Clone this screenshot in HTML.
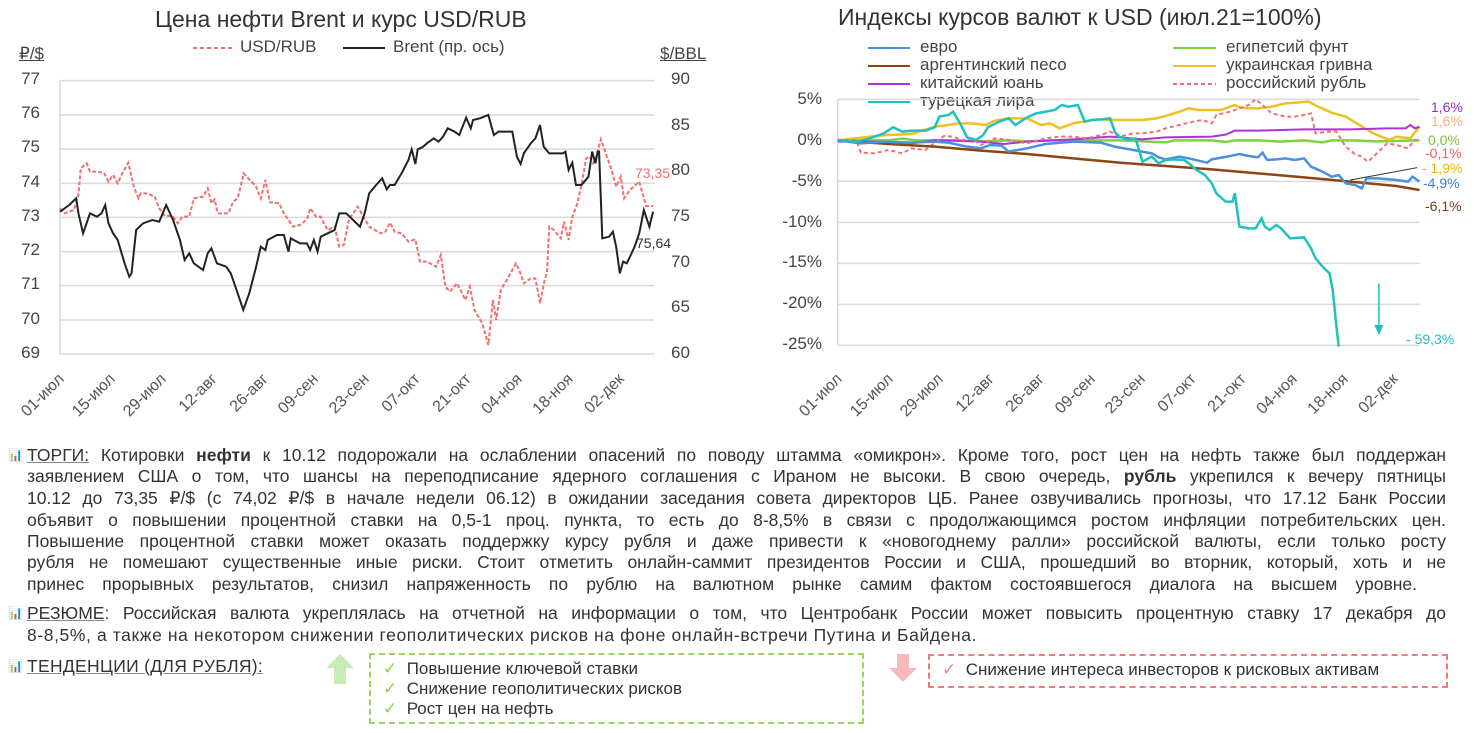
<!DOCTYPE html>
<html><head><meta charset="utf-8"><style>
body{margin:0;width:1474px;height:733px;background:#fff;position:relative;overflow:hidden;font-family:"Liberation Sans",sans-serif;color:#333}
.a{position:absolute;white-space:nowrap}
.yl{position:absolute;font-size:17px;color:#444;text-align:right;width:30px}
.yr{position:absolute;font-size:17px;color:#444}
.xl{position:absolute;font-size:16px;color:#555;transform-origin:right center;transform:rotate(-45deg);text-align:right;width:70px}
.ln{position:absolute;left:27px;width:1419px;font-size:17.5px;letter-spacing:0px;text-align:justify;text-align-last:justify;white-space:nowrap;line-height:20px}
.ic{position:absolute;left:8px;width:12px;height:12px;font-size:12px}
u{text-decoration-color:#888}
</style></head><body>
<!-- LEFT CHART -->
<div class="a" style="left:155px;top:6px;font-size:23px;color:#333">Цена нефти Brent и курс USD/RUB</div>
<svg class="a" style="left:193px;top:46px" width="42" height="4"><line x1="0" y1="2" x2="42" y2="2" stroke="#f07070" stroke-width="2" stroke-dasharray="4,3"/></svg>
<div class="a" style="left:240px;top:37px;font-size:17px;color:#444">USD/RUB</div>
<svg class="a" style="left:343px;top:46px" width="42" height="4"><line x1="0" y1="2" x2="42" y2="2" stroke="#222" stroke-width="2"/></svg>
<div class="a" style="left:393px;top:37px;font-size:17px;color:#444">Brent (пр. ось)</div>
<div class="a" style="left:19px;top:44px;font-size:17px;color:#444;text-decoration:underline">₽/$</div>
<div class="a" style="left:660px;top:44px;font-size:17px;color:#444;text-decoration:underline">$/BBL</div>
<div class="yl" style="left:10px;top:69px">77</div><div class="yl" style="left:10px;top:103px">76</div><div class="yl" style="left:10px;top:137px">75</div><div class="yl" style="left:10px;top:172px">74</div><div class="yl" style="left:10px;top:206px">73</div><div class="yl" style="left:10px;top:240px">72</div><div class="yl" style="left:10px;top:274px">71</div><div class="yl" style="left:10px;top:309px">70</div><div class="yl" style="left:10px;top:343px">69</div>
<div class="yr" style="left:671px;top:69px">90</div><div class="yr" style="left:671px;top:115px">85</div><div class="yr" style="left:671px;top:160px">80</div><div class="yr" style="left:671px;top:206px">75</div><div class="yr" style="left:671px;top:252px">70</div><div class="yr" style="left:671px;top:297px">65</div><div class="yr" style="left:671px;top:343px">60</div>
<svg class="a" style="left:0;top:0" width="720" height="420" viewBox="0 0 1560 1260" preserveAspectRatio="none">
<g stroke="#d9d9d9" stroke-width="1.5">
<line x1="130" y1="242" x2="1418" y2="242" vector-effect="non-scaling-stroke"/><line x1="130" y1="345" x2="1418" y2="345" vector-effect="non-scaling-stroke"/><line x1="130" y1="447" x2="1418" y2="447" vector-effect="non-scaling-stroke"/><line x1="130" y1="550" x2="1418" y2="550" vector-effect="non-scaling-stroke"/><line x1="130" y1="652" x2="1418" y2="652" vector-effect="non-scaling-stroke"/><line x1="130" y1="755" x2="1418" y2="755" vector-effect="non-scaling-stroke"/><line x1="130" y1="857" x2="1418" y2="857" vector-effect="non-scaling-stroke"/><line x1="130" y1="960" x2="1418" y2="960" vector-effect="non-scaling-stroke"/>
<line x1="130" y1="242" x2="130" y2="1062" vector-effect="non-scaling-stroke"/><line x1="130" y1="1062" x2="1418" y2="1062" vector-effect="non-scaling-stroke"/>
</g>
<polyline fill="none" stroke="#f07070" stroke-width="2" stroke-dasharray="4,2" vector-effect="non-scaling-stroke" points="130,625 140,640 160,630 170,585 175,505 188,490 195,515 205,515 225,518 235,545 245,525 255,550 265,520 278,488 290,560 300,595 305,580 320,580 335,590 345,625 355,645 375,650 385,670 395,650 410,650 420,595 440,590 450,565 458,610 465,598 472,640 495,640 505,605 515,595 528,520 540,538 555,560 565,595 575,540 585,607 605,610 615,640 635,680 650,675 665,658 672,625 685,650 695,650 700,665 710,690 725,680 735,740 745,735 755,665 760,650 775,620 785,645 800,680 825,700 835,695 845,668 855,695 870,700 885,725 900,718 910,785 925,785 945,800 955,765 965,860 975,875 990,850 998,870 1008,900 1018,860 1028,930 1045,970 1052,1005 1058,1035 1068,900 1075,960 1085,870 1100,835 1110,810 1118,790 1125,810 1135,850 1150,835 1160,835 1170,910 1180,840 1185,820 1190,680 1200,690 1215,715 1222,665 1232,720 1240,650 1250,615 1260,555 1270,475 1278,470 1285,490 1292,470 1302,418 1315,470 1325,510 1335,560 1345,530 1352,595 1365,570 1385,545 1400,618 1415,618"/>
<polyline fill="none" stroke="#222" stroke-width="2" vector-effect="non-scaling-stroke" points="130,635 150,615 165,595 170,640 180,700 195,640 210,650 220,640 228,615 235,670 245,700 255,720 270,790 280,830 285,820 295,690 310,670 330,660 345,665 360,615 375,660 390,720 400,780 410,760 420,790 440,810 450,760 458,745 470,790 490,800 500,820 515,880 527,930 540,880 555,800 565,740 575,750 580,720 600,705 615,705 625,755 630,715 650,730 665,730 672,750 680,720 688,755 695,710 710,700 725,690 735,640 750,640 765,660 780,680 790,640 800,580 815,555 828,535 838,568 845,555 855,555 870,520 885,480 892,448 900,492 905,448 915,442 925,430 940,415 950,425 960,410 970,385 985,395 995,405 1010,353 1020,385 1025,360 1040,355 1058,345 1070,405 1080,395 1110,395 1120,470 1128,492 1135,460 1150,430 1160,415 1170,375 1178,440 1190,460 1220,460 1225,455 1232,510 1240,488 1248,555 1260,555 1275,530 1283,455 1290,490 1295,455 1298,455 1305,715 1320,710 1328,695 1335,740 1343,820 1350,785 1358,790 1365,770 1375,740 1385,700 1395,630 1407,680 1415,635"/>
</svg>
<div class="a" style="left:635px;top:165px;font-size:14px;color:#f07070">73,35</div>
<div class="a" style="left:636px;top:235px;font-size:14px;color:#333">75,64</div>
<div class="xl" style="left:-8px;top:368px">01-июл</div><div class="xl" style="left:43px;top:368px">15-июл</div><div class="xl" style="left:94px;top:368px">29-июл</div><div class="xl" style="left:145px;top:368px">12-авг</div><div class="xl" style="left:196px;top:368px">26-авг</div><div class="xl" style="left:246px;top:368px">09-сен</div><div class="xl" style="left:297px;top:368px">23-сен</div><div class="xl" style="left:348px;top:368px">07-окт</div><div class="xl" style="left:399px;top:368px">21-окт</div><div class="xl" style="left:450px;top:368px">04-ноя</div><div class="xl" style="left:501px;top:368px">18-ноя</div><div class="xl" style="left:552px;top:368px">02-дек</div>

<!-- RIGHT CHART -->
<div class="a" style="left:838px;top:4px;font-size:23px;color:#333">Индексы курсов валют к USD (июл.21=100%)</div>
<svg class="a" style="left:868px;top:40px" width="350" height="70">
<line x1="0" y1="8" x2="42" y2="8" stroke="#4a8fe0" stroke-width="2"/>
<line x1="0" y1="26" x2="42" y2="26" stroke="#8b4513" stroke-width="2"/>
<line x1="0" y1="44" x2="42" y2="44" stroke="#b030e0" stroke-width="2"/>
<line x1="0" y1="62" x2="42" y2="62" stroke="#20c0c0" stroke-width="2"/>
<line x1="305" y1="8" x2="348" y2="8" stroke="#80d040" stroke-width="2"/>
<line x1="305" y1="26" x2="348" y2="26" stroke="#f0c020" stroke-width="2"/>
<line x1="305" y1="44" x2="348" y2="44" stroke="#f07070" stroke-width="2" stroke-dasharray="4,3"/>
</svg>
<div class="a" style="left:920px;top:38px;font-size:17px;color:#444;line-height:18px">евро<br>аргентинский песо<br>китайский юань<br>турецкая лира</div>
<div class="a" style="left:1226px;top:38px;font-size:17px;color:#444;line-height:18px">египетсий фунт<br>украинская гривна<br>российский рубль</div>
<div class="yl" style="left:782px;top:89px;width:40px">5%</div><div class="yl" style="left:782px;top:130px;width:40px">0%</div><div class="yl" style="left:782px;top:171px;width:40px">-5%</div><div class="yl" style="left:782px;top:212px;width:40px">-10%</div><div class="yl" style="left:782px;top:252px;width:40px">-15%</div><div class="yl" style="left:782px;top:293px;width:40px">-20%</div><div class="yl" style="left:782px;top:334px;width:40px">-25%</div>
<svg class="a" style="left:750px;top:0" width="724" height="420" viewBox="0 0 1568 1260" preserveAspectRatio="none">
<g stroke="#d9d9d9">
<line x1="190" y1="298" x2="1450" y2="298" vector-effect="non-scaling-stroke" stroke-width="1.5"/><line x1="190" y1="544" x2="1450" y2="544" vector-effect="non-scaling-stroke" stroke-width="1.5"/><line x1="190" y1="667" x2="1450" y2="667" vector-effect="non-scaling-stroke" stroke-width="1.5"/><line x1="190" y1="790" x2="1450" y2="790" vector-effect="non-scaling-stroke" stroke-width="1.5"/><line x1="190" y1="913" x2="1450" y2="913" vector-effect="non-scaling-stroke" stroke-width="1.5"/><line x1="190" y1="1036" x2="1450" y2="1036" vector-effect="non-scaling-stroke" stroke-width="1.5"/><line x1="190" y1="298" x2="190" y2="1036" vector-effect="non-scaling-stroke" stroke-width="1.5"/>
</g>
<g fill="none" stroke-width="2">
<polyline vector-effect="non-scaling-stroke" stroke="#80d040" stroke-width="2.5" points="190,421 300,421 330,416 360,421 450,421 500,424 560,421 600,424 650,421 800,421 900,427 920,421 1000,421 1030,426 1050,421 1100,421 1150,425 1200,421 1240,427 1260,421 1300,421 1360,424 1450,421"/>
<polyline vector-effect="non-scaling-stroke" stroke="#f0c020" stroke-width="2.5" points="190,421 260,410 300,405 350,402 400,380 430,375 450,370 480,370 510,375 530,362 560,355 600,355 630,375 650,370 670,385 700,370 750,358 800,360 850,360 880,355 900,348 930,335 950,325 970,330 1000,330 1020,330 1050,315 1060,322 1080,325 1100,325 1130,320 1160,310 1210,305 1230,320 1260,338 1290,350 1320,375 1350,400 1370,412 1385,420 1400,410 1430,415 1450,380"/>
<polyline vector-effect="non-scaling-stroke" stroke="#b030e0" points="190,425 300,425 350,430 400,420 500,425 550,432 600,425 700,418 780,410 850,418 900,412 1000,410 1030,404 1050,392 1100,392 1150,390 1200,388 1300,388 1380,385 1420,385 1430,375 1440,385 1450,380"/>
<polyline vector-effect="non-scaling-stroke" stroke="#f07070" stroke-dasharray="4,3" points="190,421 230,420 240,458 270,460 300,450 330,460 350,445 380,450 400,428 420,408 440,410 460,420 480,415 500,435 530,415 560,420 600,430 640,415 670,410 700,410 730,415 760,405 780,395 800,410 830,400 850,400 880,395 900,385 930,375 960,365 980,360 1000,370 1010,345 1040,335 1060,325 1080,315 1095,298 1110,315 1130,340 1160,350 1180,350 1200,345 1215,340 1225,400 1250,395 1270,395 1290,440 1310,462 1325,470 1338,485 1350,470 1365,450 1380,430 1400,435 1425,445 1440,420 1450,421"/>
<polyline vector-effect="non-scaling-stroke" stroke="#8b4513" stroke-width="2.5" points="190,421 300,432 400,440 500,452 600,462 700,475 800,488 900,498 1000,508 1100,520 1200,532 1300,545 1400,558 1450,570"/>
<polyline vector-effect="non-scaling-stroke" stroke="#4a8fe0" stroke-width="2.5" points="190,421 240,430 290,425 350,428 400,425 430,428 470,440 500,445 520,435 545,437 560,455 580,450 600,445 640,432 700,425 760,428 790,440 830,450 850,455 870,460 885,472 900,478 930,470 950,475 990,488 1000,478 1040,468 1060,462 1080,468 1100,472 1110,458 1120,480 1140,478 1160,475 1180,480 1200,475 1215,500 1240,515 1260,530 1275,525 1290,550 1310,555 1325,565 1335,535 1360,535 1400,540 1425,545 1435,530 1450,545"/>
<polyline vector-effect="non-scaling-stroke" stroke="#20c0c0" stroke-width="2.5" points="190,421 230,425 260,415 290,400 310,382 330,395 350,392 380,392 400,382 410,350 430,345 440,335 455,370 470,412 490,420 505,405 515,382 540,365 560,355 575,375 600,352 620,340 640,335 660,330 675,315 690,320 710,315 725,365 740,360 760,358 780,355 790,395 800,410 820,420 835,415 850,485 870,470 885,490 900,480 915,478 940,480 955,495 965,508 985,525 1000,550 1010,580 1030,605 1045,605 1050,580 1060,680 1080,685 1095,685 1108,655 1115,680 1125,690 1140,675 1150,685 1170,715 1200,712 1215,745 1225,775 1240,800 1255,820 1262,870 1270,980 1275,1040"/>
<line vector-effect="non-scaling-stroke" x1="1300" y1="540" x2="1445" y2="503" stroke="#333" stroke-width="1"/>
<line vector-effect="non-scaling-stroke" x1="1362" y1="850" x2="1362" y2="980" stroke="#20c0c0" stroke-width="1.5"/>
<polygon points="1352,975 1372,975 1362,1005" fill="#20c0c0"/>
</g>
</svg>
<div class="a" style="left:1431px;top:99px;font-size:14px;color:#9030d0">1,6%</div>
<div class="a" style="left:1431px;top:113px;font-size:14px;color:#f5b080">1,6%</div>
<div class="a" style="left:1428px;top:132px;font-size:14px;color:#80c040">0,0%</div>
<div class="a" style="left:1425px;top:145px;font-size:14px;color:#f06060">-0,1%</div>
<div class="a" style="left:1422px;top:160px;font-size:14px;color:#f0b000">- 1,9%</div>
<div class="a" style="left:1423px;top:175px;font-size:14px;color:#3a80e0">-4,9%</div>
<div class="a" style="left:1425px;top:198px;font-size:14px;color:#7a3a10">-6,1%</div>
<div class="a" style="left:1406px;top:331px;font-size:14px;color:#20c0c0">- 59,3%</div>
<div class="xl" style="left:770px;top:368px">01-июл</div><div class="xl" style="left:821px;top:368px">15-июл</div><div class="xl" style="left:871px;top:368px">29-июл</div><div class="xl" style="left:922px;top:368px">12-авг</div><div class="xl" style="left:972px;top:368px">26-авг</div><div class="xl" style="left:1023px;top:368px">09-сен</div><div class="xl" style="left:1073px;top:368px">23-сен</div><div class="xl" style="left:1124px;top:368px">07-окт</div><div class="xl" style="left:1174px;top:368px">21-окт</div><div class="xl" style="left:1225px;top:368px">04-ноя</div><div class="xl" style="left:1276px;top:368px">18-ноя</div><div class="xl" style="left:1326px;top:368px">02-дек</div>

<!-- TEXT -->
<div class="ic" style="top:448px">📊</div>
<div class="ln" style="top:445px"><u>ТОРГИ:</u> Котировки <b>нефти</b> к 10.12 подорожали на ослаблении опасений по поводу штамма «омикрон». Кроме того, рост цен на нефть также был поддержан</div>
<div class="ln" style="top:466px">заявлением США о том, что шансы на переподписание ядерного соглашения с Ираном не высоки. В свою очередь, <b>рубль</b> укрепился к вечеру пятницы</div>
<div class="ln" style="top:488px">10.12 до 73,35 ₽/$ (с 74,02 ₽/$ в начале недели 06.12) в ожидании заседания совета директоров ЦБ. Ранее озвучивались прогнозы, что 17.12 Банк России</div>
<div class="ln" style="top:510px">объявит о повышении процентной ставки на 0,5-1 проц. пункта, то есть до 8-8,5% в связи с продолжающимся ростом инфляции потребительских цен.</div>
<div class="ln" style="top:531px">Повышение процентной ставки может оказать поддержку курсу рубля и даже привести к «новогоднему ралли» российской валюты, если только росту</div>
<div class="ln" style="top:552px">рубля не помешают существенные иные риски. Стоит отметить онлайн-саммит президентов России и США, прошедший во вторник, который, хоть и не</div>
<div class="ln" style="top:574px;width:1390px">принес прорывных результатов, снизил напряженность по рублю на валютном рынке самим фактом состоявшегося диалога на высшем уровне.</div>
<div class="ic" style="top:606px">📊</div>
<div class="ln" style="top:603px"><u>РЕЗЮМЕ</u>: Российская валюта укреплялась на отчетной на информации о том, что Центробанк России может повысить процентную ставку 17 декабря до</div>
<div class="ln" style="top:625px;width:auto;text-align-last:auto;letter-spacing:0.6px">8-8,5%, а также на некотором снижении геополитических рисков на фоне онлайн-встречи Путина и Байдена.</div>
<div class="ic" style="top:659px">📊</div>
<div class="a" style="left:27px;top:656px;font-size:17.5px;letter-spacing:0.3px"><u>ТЕНДЕНЦИИ (ДЛЯ РУБЛЯ):</u></div>
<svg class="a" style="left:326px;top:654px" width="28" height="30"><polygon points="14,0 28,14 20,14 20,30 8,30 8,14 0,14" fill="#c9ebb5"/></svg>
<div class="a" style="left:369px;top:653px;width:491px;height:67px;border:2px dashed #9ad65e"></div>
<div class="a" style="left:383px;top:659px;font-size:17px;line-height:20px;color:#333"><span style="color:#8fce55">✓</span>&nbsp; Повышение ключевой ставки<br><span style="color:#8fce55">✓</span>&nbsp; Снижение геополитических рисков<br><span style="color:#8fce55">✓</span>&nbsp; Рост цен на нефть</div>
<svg class="a" style="left:889px;top:654px" width="28" height="28"><polygon points="8,0 20,0 20,14 28,14 14,28 0,14 8,14" fill="#f8b9b9"/></svg>
<div class="a" style="left:928px;top:654px;width:516px;height:30px;border:2px dashed #f07a7a"></div>
<div class="a" style="left:942px;top:660px;font-size:17px;color:#333"><span style="color:#f08080">✓</span>&nbsp; Снижение интереса инвесторов к рисковых активам</div>
</body></html>
